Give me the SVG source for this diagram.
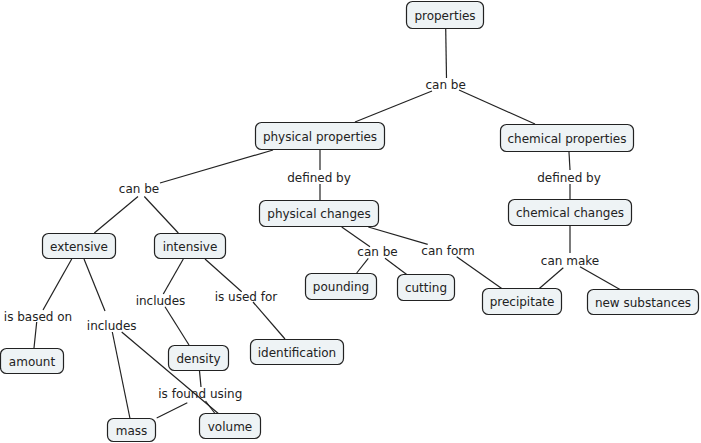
<svg xmlns="http://www.w3.org/2000/svg" width="701" height="443" viewBox="0 0 701 443">
<style>
.n rect{fill:#eef3f5;stroke:#222;stroke-width:1.2}
text{font-family:"DejaVu Sans",Verdana,sans-serif;font-size:12px;fill:#222;text-anchor:middle}
.c line{stroke:#222;stroke-width:1.2}
</style>
<rect width="701" height="443" fill="#fff"/>
<g class="c" id="connectors">
<line x1="445.7" y1="28" x2="446.5" y2="78"/>
<line x1="432" y1="91" x2="355" y2="122"/>
<line x1="459" y1="90" x2="535" y2="124"/>
<line x1="273" y1="150" x2="160" y2="183"/>
<line x1="320" y1="150" x2="320" y2="170"/>
<line x1="320" y1="184" x2="320" y2="200"/>
<line x1="569" y1="152" x2="570" y2="170"/>
<line x1="570" y1="184" x2="570" y2="199"/>
<line x1="138" y1="196.5" x2="94.3" y2="233"/>
<line x1="144.3" y1="196.5" x2="178.3" y2="233"/>
<line x1="71.7" y1="259" x2="43" y2="310"/>
<line x1="36.7" y1="322" x2="34" y2="348"/>
<line x1="84" y1="259" x2="105" y2="311"/>
<line x1="112.3" y1="332" x2="130" y2="418.5"/>
<line x1="121.7" y1="332" x2="218.3" y2="413.5"/>
<line x1="183.3" y1="259" x2="163.3" y2="294"/>
<line x1="165" y1="306.7" x2="189" y2="345"/>
<line x1="205" y1="259" x2="241.7" y2="291.7"/>
<line x1="253" y1="302" x2="285" y2="339"/>
<line x1="199.5" y1="371" x2="201" y2="387"/>
<line x1="187.3" y1="402.7" x2="156.7" y2="418"/>
<line x1="205.5" y1="401" x2="215" y2="413.5"/>
<line x1="341.7" y1="227" x2="370" y2="246.7"/>
<line x1="368.3" y1="258.3" x2="356.7" y2="273"/>
<line x1="385" y1="258.3" x2="406.7" y2="274.5"/>
<line x1="368.3" y1="227" x2="427.7" y2="244.3"/>
<line x1="456.7" y1="256.7" x2="501.7" y2="288.5"/>
<line x1="570" y1="226" x2="570" y2="253"/>
<line x1="563.3" y1="267.7" x2="539.3" y2="288.5"/>
<line x1="580" y1="266.7" x2="620" y2="289.5"/>
</g>
<g id="labels">
<text x="445.7" y="88.5">can be</text>
<text x="139" y="193">can be</text>
<text x="319" y="181.5">defined by</text>
<text x="569" y="181.5">defined by</text>
<text x="160.5" y="304.5">includes</text>
<text x="246" y="301">is used for</text>
<text x="38" y="320.5">is based on</text>
<text x="111.7" y="329.5">includes</text>
<text x="200.3" y="398.3">is found using</text>
<text x="377.5" y="256">can be</text>
<text x="448" y="255">can form</text>
<text x="570" y="265">can make</text>
</g>
<g class="n" id="n-properties"><rect x="406.5" y="1.5" width="77" height="27" rx="6"/><text x="445" y="19.5">properties</text></g>
<g class="n" id="n-physical-properties"><rect x="255.5" y="122.5" width="129" height="27" rx="6"/><text x="320" y="140.5">physical properties</text></g>
<g class="n" id="n-chemical-properties"><rect x="500.5" y="124.5" width="133" height="27" rx="6"/><text x="567" y="142.5">chemical properties</text></g>
<g class="n" id="n-extensive"><rect x="42.5" y="233.5" width="73" height="25" rx="6"/><text x="79" y="250.5">extensive</text></g>
<g class="n" id="n-intensive"><rect x="154.5" y="233.5" width="71" height="25" rx="6"/><text x="190" y="250.5">intensive</text></g>
<g class="n" id="n-physical-changes"><rect x="259.5" y="200.5" width="119" height="26" rx="6"/><text x="319" y="218">physical changes</text></g>
<g class="n" id="n-chemical-changes"><rect x="508.5" y="199.5" width="123" height="26" rx="6"/><text x="570" y="217">chemical changes</text></g>
<g class="n" id="n-pounding"><rect x="305.5" y="273.5" width="71" height="26" rx="6"/><text x="341" y="291">pounding</text></g>
<g class="n" id="n-cutting"><rect x="397.5" y="274.5" width="57" height="26" rx="6"/><text x="426" y="292">cutting</text></g>
<g class="n" id="n-precipitate"><rect x="482.5" y="288.5" width="79" height="26" rx="6"/><text x="522" y="306">precipitate</text></g>
<g class="n" id="n-new-substances"><rect x="587.5" y="289.5" width="111" height="25" rx="6"/><text x="643" y="306.5">new substances</text></g>
<g class="n" id="n-amount"><rect x="0.5" y="348.5" width="63" height="25" rx="6"/><text x="32" y="365.5">amount</text></g>
<g class="n" id="n-density"><rect x="168.5" y="345.5" width="60" height="25" rx="6"/><text x="198.5" y="362.5">density</text></g>
<g class="n" id="n-identification"><rect x="250.5" y="339.5" width="93" height="25" rx="6"/><text x="297" y="356.5">identification</text></g>
<g class="n" id="n-mass"><rect x="107.5" y="418.5" width="48" height="23" rx="6"/><text x="131.5" y="434.5">mass</text></g>
<g class="n" id="n-volume"><rect x="199.5" y="413.5" width="61" height="25" rx="6"/><text x="230" y="430.5">volume</text></g>
</svg>
